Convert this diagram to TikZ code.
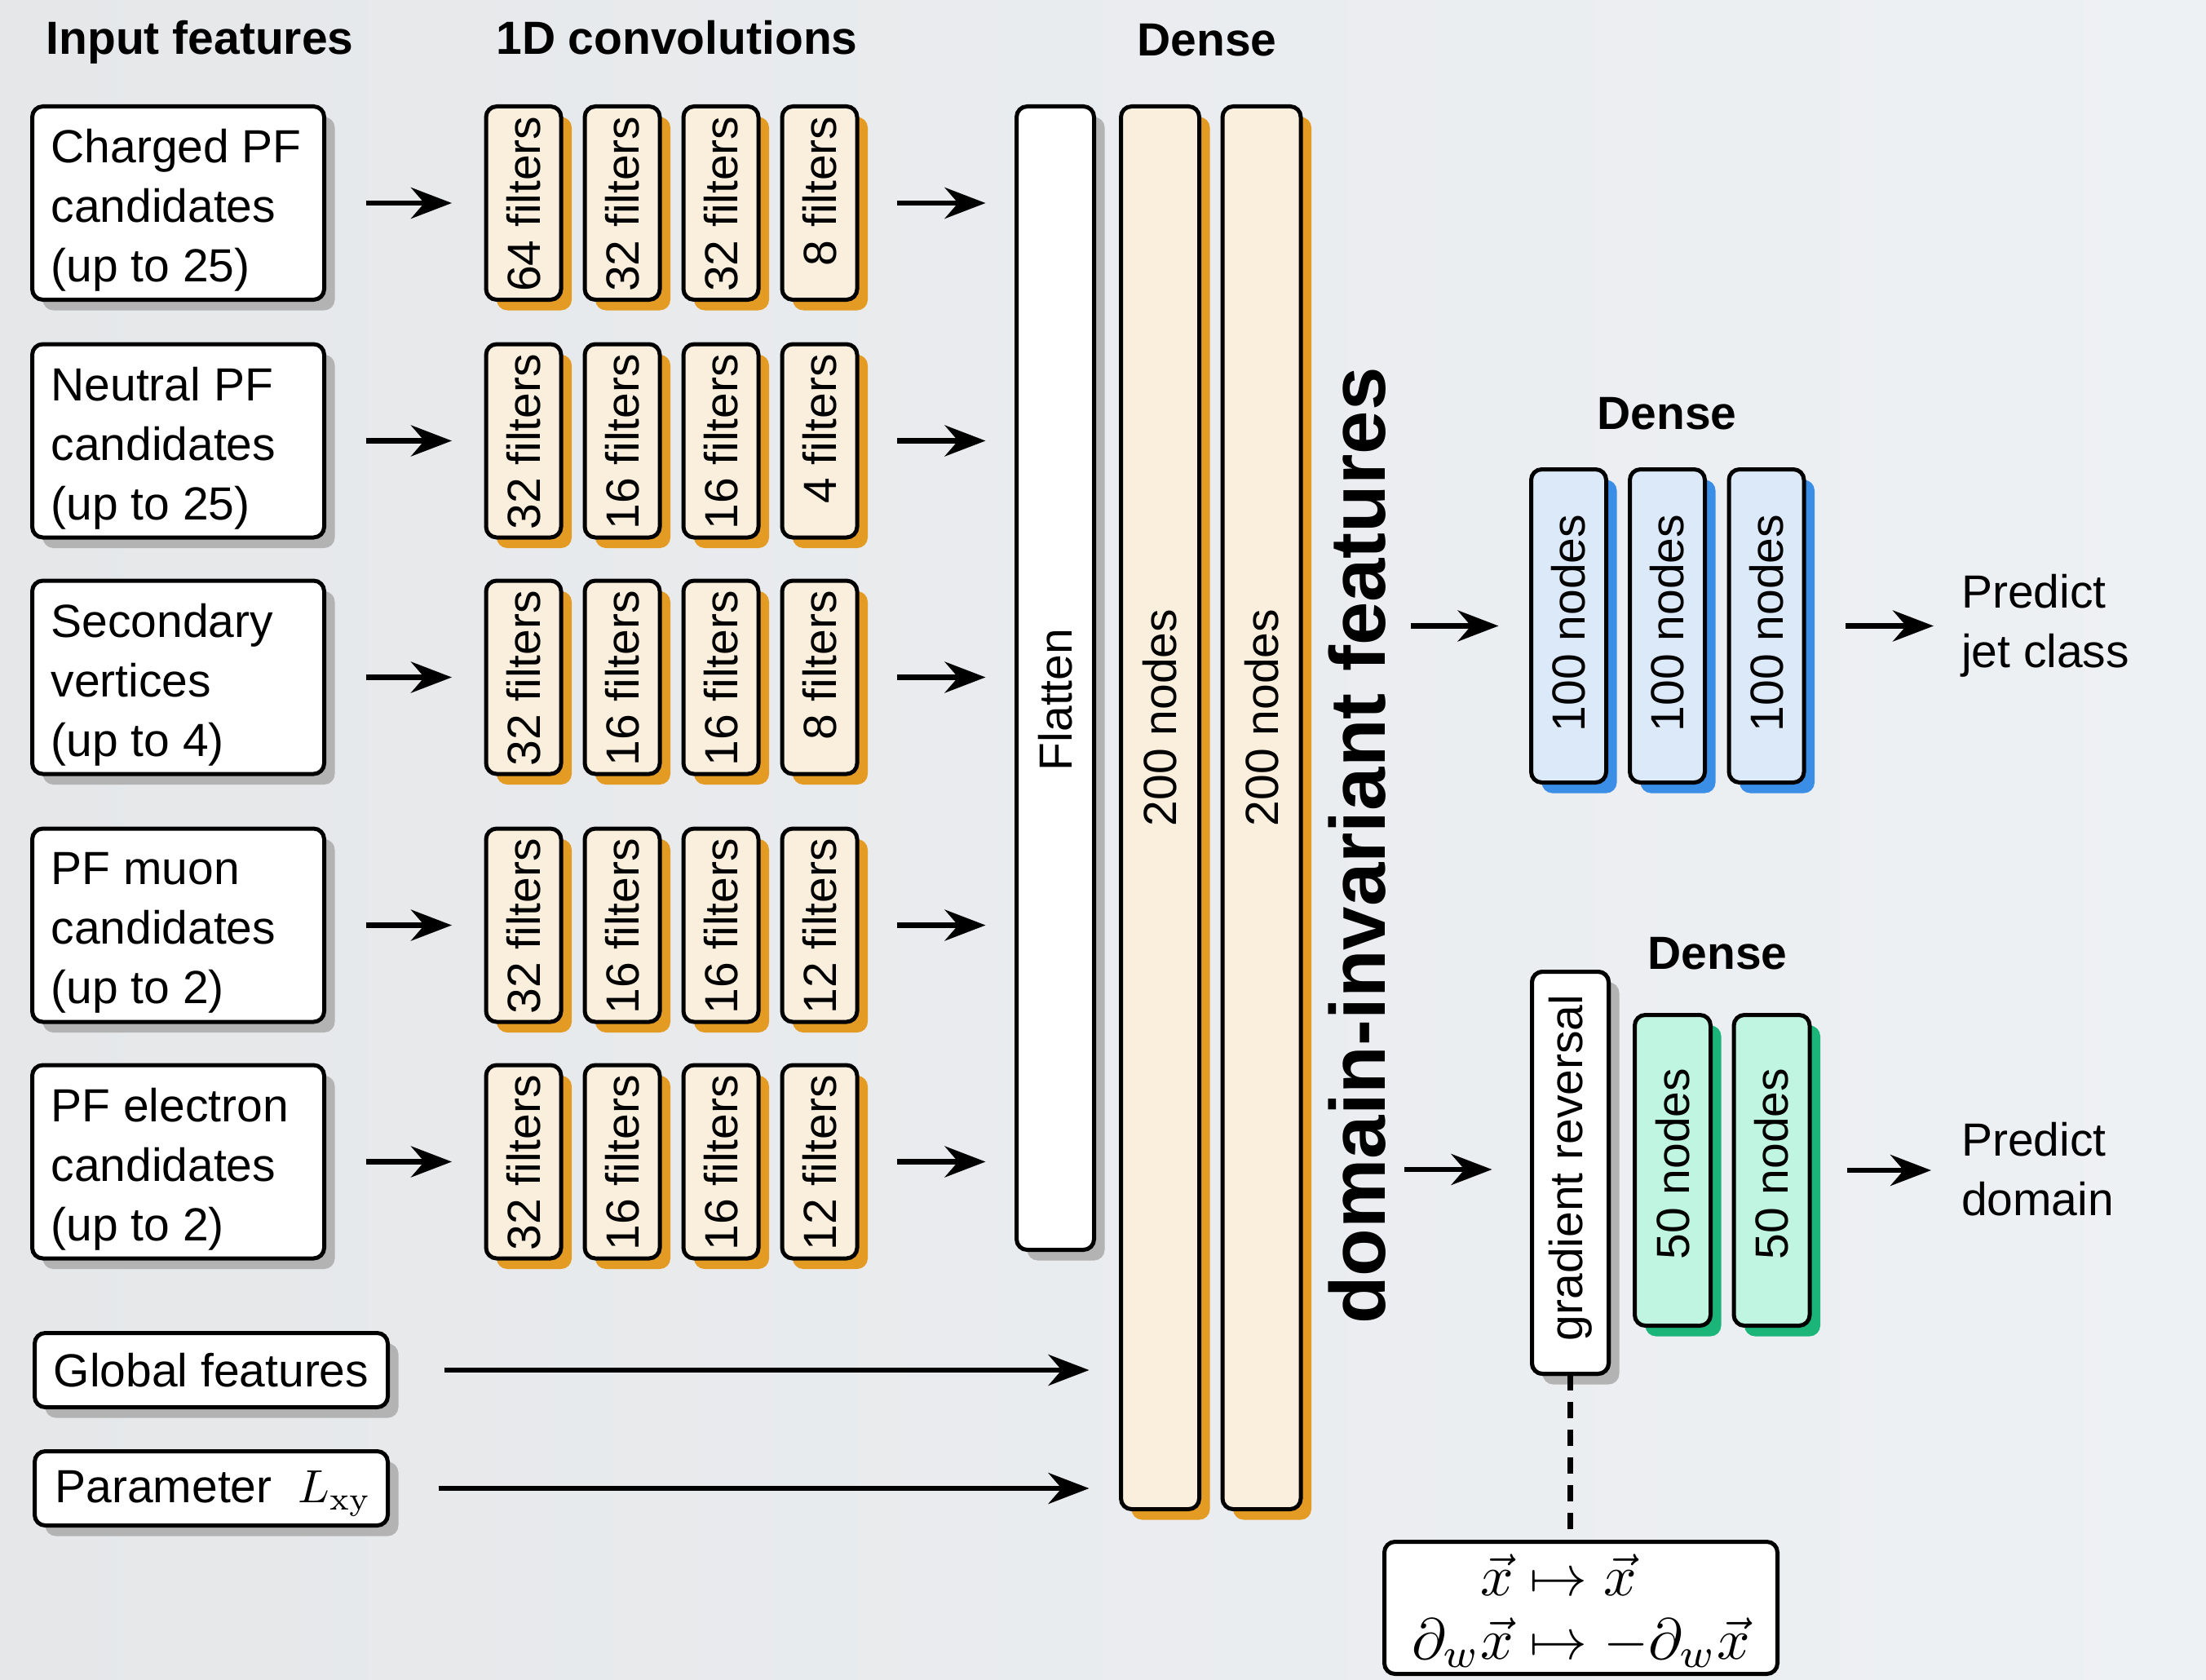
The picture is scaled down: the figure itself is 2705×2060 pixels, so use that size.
\documentclass[tikz,border=0pt]{standalone}
\usepackage{amsmath}
\usepackage{graphicx}
\usepackage[no-math]{fontspec}
\setmainfont{Liberation Sans}
\usetikzlibrary{arrows.meta,shadows}

\definecolor{bgA}{HTML}{E5E7E9}
\definecolor{bgB}{HTML}{EEF1F4}
\definecolor{cream}{HTML}{FAEEDC}
\definecolor{orangesh}{HTML}{E39B24}
\definecolor{lightblue}{HTML}{DCE9F8}
\definecolor{bluesh}{HTML}{3B8EE6}
\definecolor{mint}{HTML}{C0F5E1}
\definecolor{greensh}{HTML}{1BB57A}
\definecolor{graysh}{HTML}{B3B3B3}

% math set at a normal size and scaled up, so the CM math fonts stay sharp
\newcommand{\bigmath}[2]{\scalebox{#1}{\fontsize{10}{11}\selectfont\jot=0pt #2}}

\begin{document}
\begin{tikzpicture}[x=1pt,y=-1pt,
  every node/.style={inner sep=0pt, outer sep=0pt, font=\fontsize{57}{73}\selectfont},
  layer/.style={draw, line width=5pt, rounded corners=13pt},
  sh/.style={drop shadow={shadow xshift=13pt, shadow yshift=-13pt, fill=#1, opacity=1}},
  inbox/.style={layer, fill=white, sh=graysh, minimum width=358pt, minimum height=237pt},
  intext/.style={anchor=west, align=left},
  flatbox/.style={layer, fill=white, sh=graysh, minimum width=433pt, minimum height=91pt},
  filt/.style={layer, fill=cream, sh=orangesh, minimum width=92pt, minimum height=237pt},
  densebox/.style={layer, fill=cream, sh=orangesh, minimum width=96pt, minimum height=1720pt},
  bluebox/.style={layer, fill=lightblue, sh=bluesh, minimum width=92pt, minimum height=384pt},
  greenbox/.style={layer, fill=mint, sh=greensh, minimum width=93pt, minimum height=381pt},
  vtext/.style={rotate=90},
  title/.style={anchor=base, font=\fontsize{57}{73}\selectfont\bfseries},
  arr/.style={line width=6.5pt, -{Stealth[length=50pt, width=38pt]}}
]

% background
\useasboundingbox (0,0) rectangle (2705,2060);
\shade[left color=bgA, right color=bgB] (0,0) rectangle (2705,2060);

% column titles
\node[title] (tin)   at (245,67)   {Input features};
\node[title] (tconv) at (830,67)   {1D convolutions};
\node[title] (tden1) at (1480,69)  {Dense};
\node[title] (tden2) at (2044,526) {Dense};
\node[title] (tden3) at (2106,1188) {Dense};

% input feature boxes
\foreach \i/\yc/\txt in {1/249/{Charged PF\\candidates\\(up to 25)},
                          2/540.5/{Neutral PF\\candidates\\(up to 25)},
                          3/830.5/{Secondary\\vertices\\(up to 4)},
                          4/1134.5/{PF muon\\candidates\\(up to 2)},
                          5/1424.5/{PF electron\\candidates\\(up to 2)}} {
  \node[inbox] (in\i) at (218.5,\yc) {};
  \node[intext] (lin\i) at ([xshift=23pt, yshift=-9pt]in\i.west) {\txt};
}
\node[flatbox] (glob)  at (259,1680) {Global features};
\node[flatbox] (param) at (259,1825) {};
\node[anchor=west] (lparam) at ([xshift=25pt, yshift=-6pt]param.west)
  {Parameter~ \bigmath{5.7}{$L_{\mathrm{xy}}$}};

% 1D convolution filters
\foreach \r/\yc/\a/\b/\c/\d in {1/249/64/32/32/8, 2/540.5/32/16/16/4, 3/830.5/32/16/16/8,
                                 4/1134.5/32/16/16/12, 5/1424.5/32/16/16/12} {
  \foreach \k/\n in {1/\a, 2/\b, 3/\c, 4/\d} {
    \node[filt] (f\r\k) at ({642+121*(\k-1)},\yc) {};
    \node[vtext, anchor=east] (t\r\k) at ([yshift=-12pt]f\r\k.north) {\n\ filters};
  }
  \draw[arr, shorten <=51pt, shorten >=42pt] (in\r.east) -- (f\r1.west);
}

% flatten and shared dense layers
\node[layer, fill=white, sh=graysh, minimum width=95pt, minimum height=1402pt] (flat) at (1294,831.5) {};
\node[vtext] (tflat) at (1294,858) {Flatten};
\node[densebox] (d1) at (1422.5,990.5) {};
\node[densebox] (d2) at (1547,990.5) {};
\node[vtext] (td1) at (1422.5,880) {200 nodes};
\node[vtext] (td2) at (1547,880) {200 nodes};

\foreach \r in {1,...,5} {
  \draw[arr, shorten <=49pt, shorten >=38pt] (f\r4.east) -- (flat.west |- f\r4.east);
}
\draw[arr, shorten <=69pt, shorten >=39pt] (glob.east) -- (d1.west |- glob.east);
\draw[arr, shorten <=62pt, shorten >=39pt] (param.east) -- (d1.west |- param.east);

% domain-invariant features
\node[vtext, anchor=base, font=\fontsize{96}{110}\selectfont\bfseries] (dinv) at (1698,1037)
  {domain-invariant features};

% classifier head
\node[bluebox] (h1) at (1923.5,767.5) {};
\node[bluebox] (h2) at (2044.5,767.5) {};
\node[bluebox] (h3) at (2166,767.5) {};
\node[vtext] (th1) at (1923.5,764) {100 nodes};
\node[vtext] (th2) at (2044.5,764) {100 nodes};
\node[vtext] (th3) at (2166,764) {100 nodes};
\node[anchor=west, align=left] (pj) at (2405,767) {Predict\\jet class};

\coordinate (c1) at (1730,767.5);
\draw[arr, shorten >=40pt] (c1) -- (h1.west);
\draw[arr, shorten <=51pt, shorten >=34pt] (h3.east) -- (pj.west |- h3.east);

% domain head with gradient reversal
\node[layer, fill=white, minimum width=482pt, minimum height=162pt] (form) at (1938.5,1971.5) {};
\node (tform) at ([yshift=-8pt]form.center)
  {\bigmath{7.1}{$\begin{aligned}\vec{x} &\mapsto \vec{x}\\ \partial_w\vec{x} &\mapsto -\partial_w\vec{x}\end{aligned}$}};
\node[layer, fill=white, sh=graysh, minimum width=94pt, minimum height=493pt] (grad) at (1925.5,1438) {};
\draw[line width=6.5pt, dash pattern=on 20pt off 14pt] (grad.south) -- (grad.south |- form.north);
\node[layer, fill=white, minimum width=94pt, minimum height=493pt] (gradtop) at (1925.5,1438) {};
\node[vtext] (tgrad) at (1925.5,1432) {gradient reversal};
\node[greenbox] (g1) at (2051,1435) {};
\node[greenbox] (g2) at (2172.5,1435) {};
\node[vtext] (tg1) at (2051,1427) {50 nodes};
\node[vtext] (tg2) at (2172.5,1427) {50 nodes};
\node[anchor=west, align=left] (pd) at (2405,1434) {Predict\\domain};

\coordinate (c2) at (1722,1434);
\draw[arr, shorten >=49pt] (c2) -- (grad.west |- c2);
\draw[arr, shorten <=46pt, shorten >=37pt] (g2.east) -- (pd.west |- g2.east);

\end{tikzpicture}
\end{document}
